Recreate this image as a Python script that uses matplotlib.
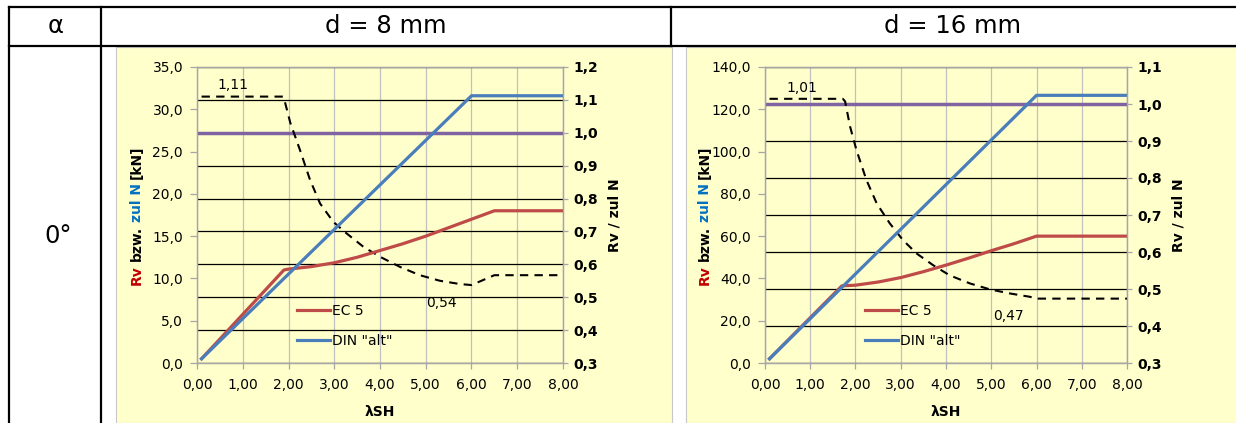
import numpy as np
import matplotlib
matplotlib.use("Agg")
import matplotlib.pyplot as plt
from matplotlib.patches import Rectangle
from matplotlib.lines import Line2D
from matplotlib.ticker import FuncFormatter

plt.rcParams["font.family"] = ["DejaVu Sans"]

# --- d = 8 mm ---
lam_ec5_8 = [0.1, 1.9, 2.0, 2.5, 3.0, 3.5, 4.0, 4.5, 5.0, 5.5, 6.0, 6.5, 8.0]
rv_ec5_8 = [0.5, 11.0, 11.1, 11.4, 11.85, 12.5, 13.3, 14.1, 15.0, 16.0, 17.0, 18.0, 18.0]
lam_din_8 = [0.1, 6.0, 8.0]
zuln_din_8 = [0.5, 31.6, 31.6]
lam_ratio_8 = [0.1, 1.88, 1.91, 2.04, 2.25, 2.47, 2.69, 2.98, 3.27, 3.64, 4.0,
               4.44, 4.87, 5.31, 5.75, 6.0, 6.5, 8.0]
ratio_8 = [1.11, 1.11, 1.10, 1.03, 0.948, 0.857, 0.785, 0.729, 0.694, 0.653, 0.623,
           0.592, 0.567, 0.550, 0.540, 0.537, 0.567, 0.567]

# --- d = 16 mm ---
lam_ec5_16 = [0.1, 1.7, 2.0, 2.5, 3.0, 3.5, 4.0, 4.5, 5.0, 5.5, 6.0, 8.0]
rv_ec5_16 = [2.0, 36.5, 36.8, 38.3, 40.4, 43.2, 46.3, 49.6, 53.1, 56.4, 60.0, 60.0]
lam_din_16 = [0.1, 6.0, 8.0]
zuln_din_16 = [2.0, 126.6, 126.6]
lam_ratio_16 = [0.1, 1.72, 1.77, 1.88, 2.02, 2.24, 2.47, 2.76, 3.05, 3.35, 3.72,
                4.08, 4.53, 4.97, 5.41, 5.85, 6.0, 8.0]
ratio_16 = [1.014, 1.014, 1.007, 0.939, 0.876, 0.795, 0.731, 0.677, 0.632, 0.596, 0.564,
            0.537, 0.515, 0.499, 0.488, 0.479, 0.474, 0.474]

unity_lam = [0.0, 8.0]
unity = [1.0, 1.0]

headers = ["α", "d = 8 mm", "d = 16 mm"]
row_label = "0°"

RED = "#BE4B48"
BLUE = "#4A7EBB"
PURPLE = "#8064A2"
GRAY = "#A6A6A6"
YELLOW = "#FFFFCC"
FS = 10
HFS = 17.5

W, H = 1236, 423
fig = plt.figure(figsize=(W / 100, H / 100), dpi=100)


def fx(px):
    return px / W


def fy(py):
    return 1 - py / H


def comma(fmt):
    return FuncFormatter(lambda v, p: format(v, fmt).replace(".", ","))


# table frame
for xs, ys in [([9, W], [7, 7]), ([9, W], [46, 46]), ([9, 9], [7, H]),
               ([101, 101], [7, H]), ([671, 671], [7, 46])]:
    fig.add_artist(Line2D([fx(x) for x in xs], [fy(y) for y in ys],
                          color="black", lw=1.6, zorder=5))

fig.text(fx(56), fy(26), headers[0], fontsize=HFS, ha="center", va="center")
fig.text(fx(386), fy(26), headers[1], fontsize=HFS, ha="center", va="center")
fig.text(fx(952), fy(26), headers[2], fontsize=HFS, ha="center", va="center")
fig.text(fx(58), fy(236), row_label, fontsize=HFS, ha="center", va="center")

# chart backgrounds
for x0, x1 in [(116, 672), (686, W + 2)]:
    fig.add_artist(Rectangle((fx(x0), 0), fx(x1) - fx(x0), fy(47), transform=fig.transFigure,
                             facecolor=YELLOW, edgecolor="#C8C8C8", lw=0.8, zorder=-2))


def left_label(x_px, yc_px):
    parts = [("Rv", "#C00000"), ("bzw.", "black"), ("zul N", "#0070C0"), ("[kN]", "black")]
    renderer = fig.canvas.get_renderer()
    texts = []
    for s, c in parts:
        t = fig.text(fx(x_px), 0, s, color=c, fontsize=FS, fontweight="bold",
                     rotation=90, ha="center", va="bottom")
        texts.append(t)
    gap = 4
    heights = [t.get_window_extent(renderer).height for t in texts]
    total = sum(heights) + gap * (len(texts) - 1)
    y = (H - yc_px) - total / 2
    for t, h in zip(texts, heights):
        t.set_y(y / H)
        y += h + gap


def chart(x0, x1, lam_ec5, rv_ec5, lam_din, zuln_din, lam_ratio, ratio,
          ymax, ystep, rmin, rmax, label_x, rlabel_x, max_off, min_off):
    top, bot = 67, 363
    ax = fig.add_axes([fx(x0), fy(bot), fx(x1) - fx(x0), (bot - top) / H])
    ax2 = ax.twinx()
    ax.set_zorder(ax2.get_zorder() + 1)
    ax.patch.set_visible(False)
    ax2.patch.set_facecolor("white")

    ax.plot(lam_ec5, rv_ec5, color=RED, lw=2.3, label="EC 5")
    ax.plot(lam_din, zuln_din, color=BLUE, lw=2.3, label='DIN "alt"')
    ax2.plot(unity_lam, unity, color=PURPLE, lw=2.5, zorder=3)
    ax2.plot(lam_ratio, ratio, color="black", lw=1.5, dashes=(4, 3), zorder=4)

    ax.set_xlim(0, 8)
    ax.set_ylim(0, ymax)
    ax2.set_ylim(rmin, rmax)
    ax.set_xticks(np.arange(0, 8.01, 1))
    ax.set_yticks(np.arange(0, ymax + 0.01, ystep))
    ax2.set_yticks(np.arange(rmin, rmax + 0.001, 0.1))
    ax.xaxis.set_major_formatter(comma(".2f"))
    ax.yaxis.set_major_formatter(comma(".1f"))
    ax2.yaxis.set_major_formatter(comma(".1f"))

    ax2.yaxis.grid(True, color="black", lw=0.9)
    for t in range(9):
        ax2.axvline(t, color="#C0C0C0", lw=0.9, zorder=0.5)

    for a in (ax, ax2):
        for sp in a.spines.values():
            sp.set_color(GRAY)
            sp.set_linewidth(0.9)
    ax.tick_params(axis="x", direction="out", length=4, width=0.9, color=GRAY,
                   labelsize=FS, pad=7)
    ax.tick_params(axis="y", direction="out", length=5, width=0.9, color=GRAY,
                   labelsize=FS, pad=5)
    ax2.tick_params(direction="out", length=3.6, width=0.9, color=GRAY, labelsize=FS, pad=3.6)
    for tk in ax2.yaxis.get_major_ticks():
        tk.label2.set_fontweight("bold")

    w = x1 - x0
    ax.set_xlabel("λSH", fontsize=FS, fontweight="bold", va="center")
    ax.xaxis.set_label_coords(0.5, (bot - 412) / (bot - top))
    ax2.set_ylabel("Rv / zul N", fontsize=FS, fontweight="bold", va="center", ha="center")
    ax2.yaxis.set_label_coords((rlabel_x - x0) / w, 0.5)
    left_label(label_x, (top + bot) / 2)

    # value labels at the ratio plateau and minimum
    i_max = int(np.argmax(ratio))
    i_min = int(np.argmin(ratio))
    ax2.annotate(format(ratio[i_max], ".2f").replace(".", ","),
                 (lam_ratio[i_max], ratio[i_max]), xytext=max_off,
                 textcoords="offset pixels", ha="center", va="center", fontsize=FS)
    ax2.annotate(format(ratio[i_min], ".2f").replace(".", ","),
                 (lam_ratio[i_min], ratio[i_min]), xytext=min_off,
                 textcoords="offset pixels", ha="center", va="center", fontsize=FS)

    ax.legend(loc="upper left", bbox_to_anchor=(100 / w, 0.2), frameon=False,
              fontsize=FS, handlelength=2.4, handletextpad=0.15, labelspacing=1.15,
              borderpad=0, borderaxespad=0)


chart(197, 563, lam_ec5_8, rv_ec5_8, lam_din_8, zuln_din_8, lam_ratio_8, ratio_8,
      35, 5, 0.3, 1.2, 137, 615, (31, 12), (-30, -18))
chart(765, 1127, lam_ec5_16, rv_ec5_16, lam_din_16, zuln_din_16, lam_ratio_16, ratio_16,
      140, 20, 0.3, 1.1, 705, 1178, (32, 11), (-28, -17))

fig.savefig("out.png", dpi=100)
